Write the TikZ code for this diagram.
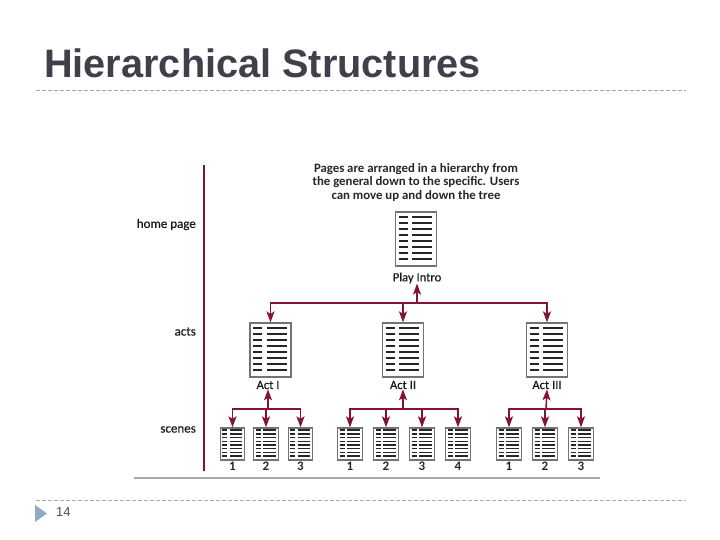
\documentclass[tikz,border=0pt]{standalone}
\usepackage{fontspec}
\setmainfont{Carlito}
\newfontfamily\titlefont{Liberation Sans}
\newfontfamily\labelfont[FakeBold=0.35]{Carlito}
\usetikzlibrary{arrows.meta,calc}
\definecolor{crimsonline}{HTML}{85123A}
\definecolor{titlegray}{HTML}{40404A}
\definecolor{ruleline}{HTML}{A8A8A8}
\definecolor{markblue}{HTML}{8FAAC4}
\tikzset{
	bigpage/.style={draw=black!55,fill=white,line width=1.2pt,minimum width=41pt,minimum height=54pt,inner sep=0pt},
	smallpage/.style={draw=black!55,fill=white,line width=1.3pt,minimum width=24.5pt,minimum height=32pt,inner sep=0pt},
	levellabel/.style={anchor=east,font=\labelfont\fontsize{13}{15}\selectfont,inner sep=0pt,text=black!90},
	pagelabel/.style={font=\labelfont\fontsize{12.6}{15}\selectfont,inner sep=0pt,text=black!90},
	scenenum/.style={font=\fontsize{13}{15}\selectfont\bfseries,inner sep=0pt,text=black!85},
	tree/.style={draw=crimsonline,line width=1.5pt,>={Stealth[length=11pt,width=8pt,inset=2.5pt]}},
	dashrule/.style={draw=ruleline,line width=0.6pt,dash pattern=on 4pt off 2pt}
}
% text lines of a page: short column and long column
\newcommand{\biglines}[1]{
	\foreach \k in {0,...,7}
		\draw [line width=1.4pt,black!85] ($(#1.north west)+(4,5.5+6*\k)$) -- +(9,0) ($(#1.north west)+(17.5,5.5+6*\k)$) -- +(20,0);
}
\newcommand{\smalllines}[1]{
	\foreach \k in {0,...,7}
		\draw [line width=1.5pt,black!85] ($(#1.north west)+(2.5,2.8+3.7*\k)$) -- +(5,0) ($(#1.north west)+(10,2.8+3.7*\k)$) -- +(12.5,0);
}
\begin{document}
\begin{tikzpicture}[x=1pt,y=-1pt,line cap=butt]
	\useasboundingbox (0,0) rectangle (720,540);
	% slide frame
	\node (title) [anchor=west,inner sep=0pt,text=titlegray,font=\titlefont\fontsize{39.7}{42}\selectfont\bfseries] at (44,63) {Hierarchical Structures};
	\coordinate (ruletopl) at (36,90);
	\coordinate (ruletopr) at (686,90);
	\coordinate (rulebotl) at (36,500);
	\coordinate (rulebotr) at (686,500);
	\draw [dashrule] (ruletopl)-- (ruletopr);
	\draw [dashrule] (rulebotl)-- (rulebotr);
	\fill [markblue] (35,505)-- (47,513.5)-- (35,522)-- cycle;
	\node (slidenum) [anchor=west,inner sep=0pt,text=black!70,font=\titlefont\fontsize{13}{15}\selectfont] at (56,512) {14};
	% axis
	\coordinate (axistop) at (204,165);
	\coordinate (axisbot) at (204,471);
	\coordinate (basel) at (134,478);
	\coordinate (baser) at (600,478);
	\draw [crimsonline,line width=1.3pt] (axistop)-- (axisbot);
	\draw [ruleline,line width=1.6pt] (basel)-- (baser);
	\node (lhome) [levellabel] at (196,224.5) {home page};
	\node (lacts) [levellabel] at (196,331.5) {acts};
	\node (lscenes) [levellabel] at (196,429.5) {scenes};
	\node (note) [align=center,inner sep=0pt,font=\fontsize{12.8}{13.4}\selectfont\bfseries,text=black!85] at (416,182.5) {Pages are arranged in a hierarchy from\\the general down to the specific. Users\\can move up and down the tree};
	% pages
	\node (home) [bigpage] at (416,239) {};
	\node (actone) [bigpage] at (270.5,350) {};
	\node (acttwo) [bigpage] at (403,350) {};
	\node (actthree) [bigpage] at (547,350) {};
	\biglines{home}
	\biglines{actone}
	\biglines{acttwo}
	\biglines{actthree}
	\node (lplay) [pagelabel] at (417,278) {Play Intro};
	\node (lone) [pagelabel] at (268,385) {Act I};
	\node (ltwo) [pagelabel] at (403,385) {Act II};
	\node (lthree) [pagelabel] at (547,385) {Act III};
	\foreach \nm/\xx/\lb in {a/232.5/1,b/266/2,c/300.5/3,d/350/1,e/386/2,f/422/3,g/458/4,h/509/1,i/545/2,j/581/3}{
		\node (s\nm) [smallpage] at (\xx,444) {};
		\smalllines{s\nm}
		\node (n\nm) [scenenum] at (\xx,466) {\lb};
	}
	% tree arrows
	\coordinate (bustop) at (417,303);
	\draw [tree,->] (bustop)-- (lplay.south);
	\draw [tree,->] (bustop)-- (actone.north |- bustop)-- (actone.north);
	\draw [tree,->] (bustop)-- (actthree.north |- bustop)-- (actthree.north);
	\draw [tree,->] (acttwo.north |- bustop)-- (acttwo.north);
	\coordinate (busone) at (268,409);
	\coordinate (bustwo) at (403,409);
	\coordinate (busthree) at (546,409);
	\draw [tree,->] (busone)-- (lone.south);
	\draw [tree,->] (bustwo)-- (ltwo.south);
	\draw [tree,->] (busthree)-- (lthree.south);
	\draw [tree,->] (busone)-- (sa.north |- busone)-- (sa.north);
	\draw [tree,->] (busone)-- (sc.north |- busone)-- (sc.north);
	\draw [tree,->] (sb.north |- busone)-- (sb.north);
	\draw [tree,->] (bustwo)-- (sd.north |- bustwo)-- (sd.north);
	\draw [tree,->] (bustwo)-- (sg.north |- bustwo)-- (sg.north);
	\draw [tree,->] (se.north |- bustwo)-- (se.north);
	\draw [tree,->] (sf.north |- bustwo)-- (sf.north);
	\draw [tree,->] (busthree)-- (sh.north |- busthree)-- (sh.north);
	\draw [tree,->] (busthree)-- (sj.north |- busthree)-- (sj.north);
	\draw [tree,->] (si.north |- busthree)-- (si.north);
\end{tikzpicture}
\end{document}
